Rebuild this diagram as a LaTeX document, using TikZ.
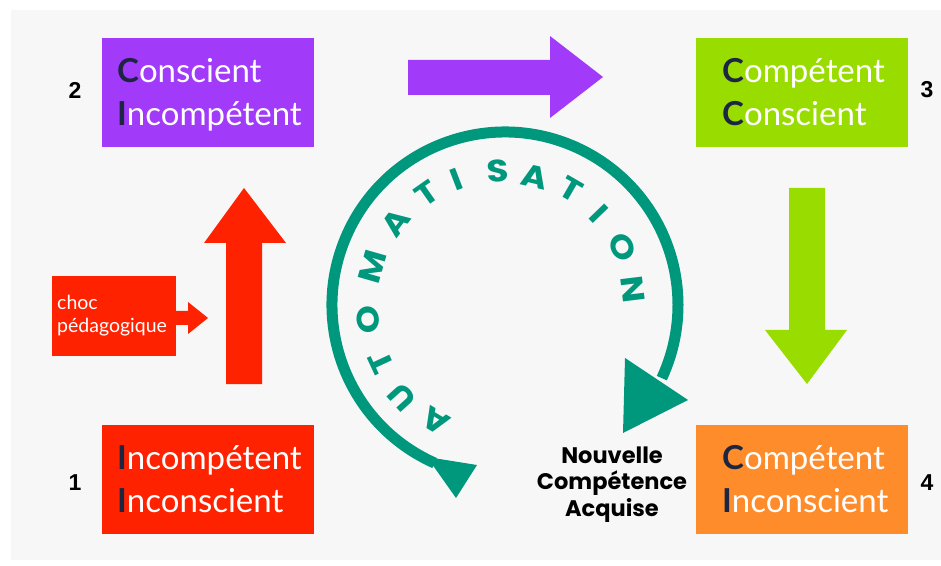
\documentclass[tikz,border=0pt]{standalone}
\usepackage{fontspec}
\usetikzlibrary{calc}
\setmainfont{Lato}
\newfontfamily\popfont{Poppins}[FakeStretch=1.15]
\newfontfamily\ncafont{Poppins}
\newfontfamily\numfont{Liberation Sans}
\definecolor{bgc}{RGB}{247,247,247}
\definecolor{purpleC}{RGB}{162,58,250}
\definecolor{greenC}{RGB}{153,220,0}
\definecolor{redC}{RGB}{255,34,0}
\definecolor{orangeC}{RGB}{255,140,42}
\definecolor{tealC}{RGB}{0,152,125}
\definecolor{navyC}{RGB}{28,37,65}
\tikzset{
  stagebox/.style={minimum width=212pt,minimum height=109pt,inner sep=0pt,draw=none},
  stagetext/.style={anchor=base west,inner sep=0pt,text=white,font=\fontsize{33}{38}\selectfont},
  stagenum/.style={inner sep=0pt,font=\numfont\bfseries\fontsize{23}{26}\selectfont},
  autoletter/.style={inner sep=0pt,text=tealC,font=\popfont\bfseries\fontsize{31}{35}\selectfont},
  ncatext/.style={anchor=base,inner sep=0pt,font=\ncafont\bfseries\fontsize{22.5}{26}\selectfont}
}
\newcommand{\initl}[1]{\textbf{\color{navyC}#1}}
\begin{document}
\begin{tikzpicture}[x=1pt,y=1pt]
\useasboundingbox (0,0) rectangle (941,565);
\fill[bgc] (11,5) rectangle (941,555);

% stage boxes
\node[stagebox,fill=purpleC] (b2) at (208,472.5) {};
\node[stagebox,fill=greenC] (b3) at (801.5,472.5) {};
\node[stagebox,fill=redC] (b1) at (208,86) {};
\node[stagebox,fill=orangeC] (b4) at (801.5,86) {};

\node[stagetext] (t2a) at (117,482) {\initl{C}onscient};
\node[stagetext] (t2b) at (117,439) {\initl{I}ncompétent};
\node[stagetext] (t3a) at (722,482) {\initl{C}ompétent};
\node[stagetext] (t3b) at (722,439) {\initl{C}onscient};
\node[stagetext] (t1a) at (117,96) {\initl{I}ncompétent};
\node[stagetext] (t1b) at (117,53) {\initl{I}nconscient};
\node[stagetext] (t4a) at (722,96) {\initl{C}ompétent};
\node[stagetext] (t4b) at (722,53) {\initl{I}nconscient};

\node[stagenum] (n2) at (75,475) {2};
\node[stagenum] (n3) at (927,475) {3};
\node[stagenum] (n1) at (75,82) {1};
\node[stagenum] (n4) at (927,82) {4};

% block arrows
\fill[purpleC] (408,470) -- (550,470) -- (550,447) -- (603,488) -- (550,529) -- (550,505) -- (408,505) -- cycle;
\fill[greenC] (789,377) -- (825,377) -- (825,235) -- (847,235) -- (807,181) -- (765,235) -- (789,235) -- cycle;
\fill[redC] (226,181) -- (262,181) -- (262,322) -- (286,322) -- (244,377) -- (204,322) -- (226,322) -- cycle;

% choc pedagogique
\node[fill=redC,minimum width=124pt,minimum height=80pt,inner sep=0pt] (choc) at (114,249) {};
\node[anchor=base west,inner sep=0pt,text=white,font=\fontsize{19.5}{22}\selectfont] (choc1) at (57,255) {choc};
\node[anchor=base west,inner sep=0pt,text=white,font=\fontsize{19.5}{22}\selectfont] (choc2) at (57,232) {pédagogique};
\fill[redC] (176,240) -- (188,240) -- (188,231) -- (208,247) -- (188,263) -- (188,254) -- (176,254) -- cycle;

% automatisation ring
\coordinate (rc) at (505,260);
\draw[tealC,line width=11pt] (rc) ++(246:173) arc[start angle=246,end angle=-25,radius=173];
\fill[tealC] (625,207) -- (688,165) -- (623,132) -- cycle;
\fill[tealC] (427,108) -- (477,100) -- (456,67) -- cycle;

\foreach \ch/\ang/\rr [count=\i] in {A/239/135,U/222/138,T/205/137,O/186/138,M/164/138,A/143/137,T/125/136,I/111/135,S/93/134,A/77/132,T/60/133,I/44/131,O/26/131,N/7/129}{
  \node[autoletter,rotate=\ang-90] (l\i) at ($(rc)+(\ang:\rr)$) {\ch};
}

% result label
\node[ncatext] (nca1) at (612,102) {Nouvelle};
\node[ncatext] (nca2) at (612,76) {Compétence};
\node[ncatext] (nca3) at (612,49) {Acquise};
\end{tikzpicture}
\end{document}
